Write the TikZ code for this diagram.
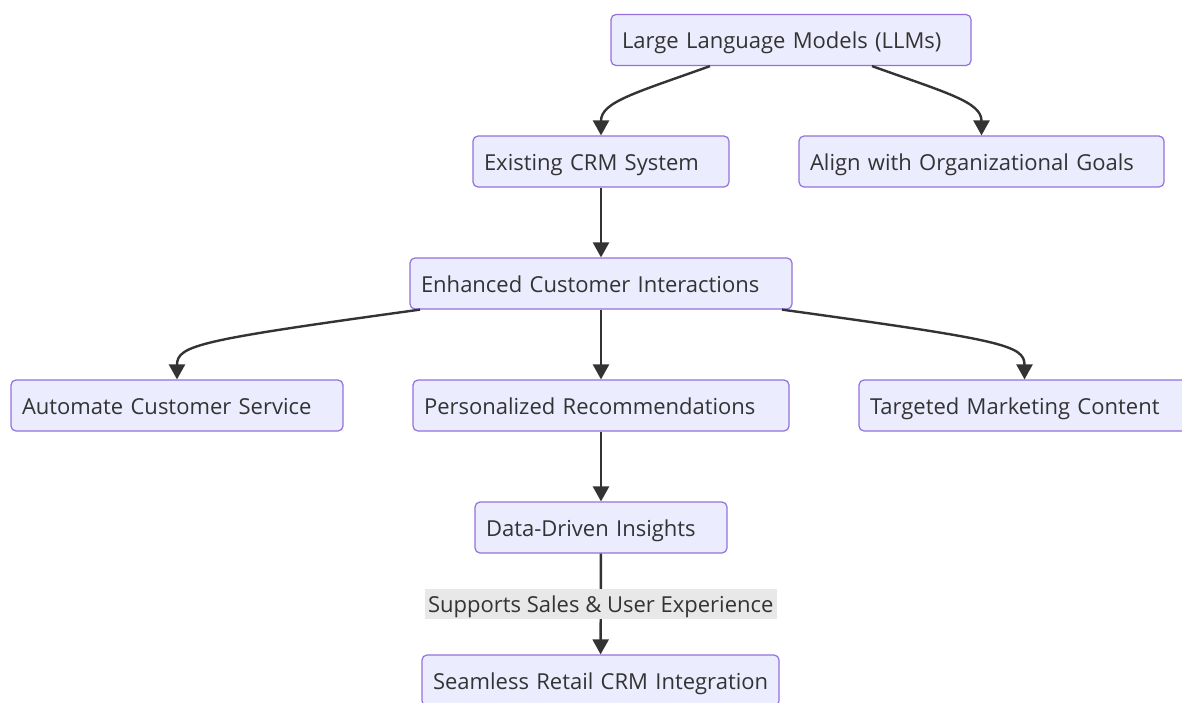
\documentclass[tikz,border=0pt]{standalone}
\usepackage{fontspec}
\setmainfont{Open Sans}
\usetikzlibrary{arrows.meta}
\definecolor{boxfill}{HTML}{ECECFF}
\definecolor{boxline}{HTML}{9370DB}
\definecolor{ink}{HTML}{333333}
\definecolor{lblbg}{HTML}{E8E8E8}
\tikzset{
  box/.style={draw=boxline, fill=boxfill, rounded corners=5pt, line width=1.2pt,
    minimum height=51pt, inner xsep=11pt, inner ysep=0pt, align=left, text=ink,
    text height=19pt, text depth=1.5pt,
    font=\fontsize{22}{26}\selectfont},
  arr/.style={draw=ink, line width=2.4pt, -{Triangle[width=16pt,length=15pt]}},
  lbl/.style={fill=lblbg, text=ink, inner sep=0pt, minimum width=352pt,
    minimum height=30pt, text height=19pt, text depth=1.5pt,
    font=\fontsize{22}{26}\selectfont}
}
\begin{document}
\begin{tikzpicture}[x=1pt,y=-1pt]
\useasboundingbox (0,0) rectangle (1182,702);

% nodes
\node[box, text width=338pt] (llm)  at (791,40)     {Large Language Models (LLMs)};
\node[box, text width=234pt] (crm)  at (601,161.5)  {Existing CRM System};
\node[box, text width=343pt] (goal) at (981.5,161.5){Align with Organizational Goals};
\node[box, text width=360pt] (enh)  at (601,283.5)  {Enhanced Customer Interactions};
\node[box, text width=310pt] (auto) at (177,405.5)  {Automate Customer Service};
\node[box, text width=354pt] (pers) at (601,405.5)  {Personalized Recommendations};
\node[box, text width=309pt] (mkt)  at (1024.5,405.5){Targeted Marketing Content};
\node[box, text width=230pt] (data) at (601,527.5)  {Data-Driven Insights};
\node[box, text width=335pt] (seam) at (600.5,680.5){\mbox{Seamless Retail CRM Integration}};

% connectors
\draw[arr] ([xshift=-81pt]llm.south) .. controls (635,93) and (601,102) .. (crm.north);
\draw[arr] ([xshift=81pt]llm.south) .. controls (947,93) and (981.5,102) .. (goal.north);
\draw[arr] (crm) -- (enh);
\draw[arr] ([xshift=-181pt]enh.south) .. controls (200,340) and (177,345) .. (auto.north);
\draw[arr] (enh) -- (pers);
\draw[arr] ([xshift=181pt]enh.south) .. controls (1002,340) and (1024.5,345) .. (mkt.north);
\draw[arr] (pers) -- (data);
\draw[arr] (data) -- node[lbl] {Supports Sales \& User Experience} (seam);
\end{tikzpicture}
\end{document}
